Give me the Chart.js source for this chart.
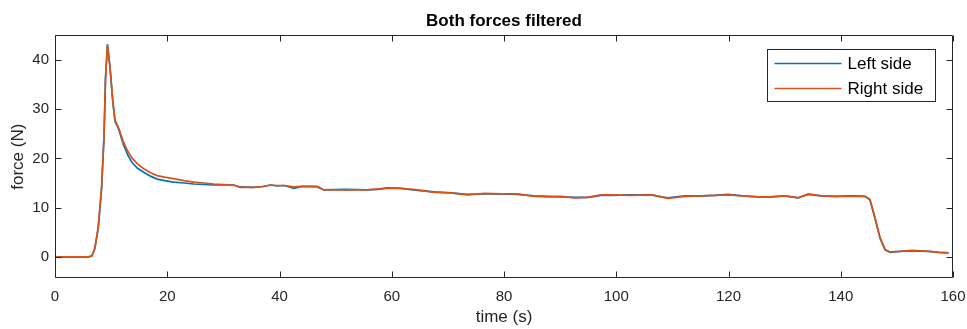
<!DOCTYPE html>
<html><head><meta charset="utf-8">
<script src="https://cdn.jsdelivr.net/npm/chart.js@4/dist/chart.umd.min.js"></script>
<style>html,body{margin:0;padding:0;background:#fff;overflow:hidden}#wrap{width:967px;height:329px}</style>
</head><body><div id="wrap"><canvas id="c" width="967" height="329"></canvas></div>
<script>
const titleText = 'Both forces filtered';
const xLabel = 'time (s)';
const yLabel = 'force (N)';
const seriesNames = ['Left side', 'Right side'];
const xTicks = [0, 20, 40, 60, 80, 100, 120, 140, 160];
const yTicks = [0, 10, 20, 30, 40];

const time = [0,3,6,6.6,7.1,7.7,8.3,8.75,9.0,9.35,
  9.8,10.3,10.7,11.3,12.2,13.0,13.7,14.7,15.8,17.0,
  18.2,19.5,21.1,23.0,24.7,26.5,28.3,30.0,31.8,33.0,
  35.4,37.0,38.4,39.5,40.8,42.6,44.0,46.7,47.9,51.5,
  55.7,57.5,59.2,61.6,64.6,67.6,70.5,73.5,76.5,79.5,
  82.4,85.4,88.0,90.2,92.6,94.9,97.3,99.1,102.5,106.3,
  108.0,109.2,112.2,115.2,117.5,119.9,122.5,125.3,127.5,130.1,
  132.4,134.2,136.5,139.0,142.0,144.3,145.2,146.1,147.0,147.9,
  148.8,150.5,152.7,155.7,157.5,159.2];

const leftSide = [0,0,0,0.2,1.7,5.8,13.9,24.8,36.2,43.2,
  38.5,31.5,27.5,26.1,22.8,20.6,19.2,18.0,17.2,16.4,
  15.8,15.5,15.2,15.0,14.8,14.7,14.6,14.6,14.6,14.2,
  14.1,14.3,14.6,14.4,14.5,13.9,14.3,14.3,13.6,13.7,
  13.6,13.7,14.0,13.9,13.5,13.2,13.0,12.7,12.8,12.8,
  12.7,12.4,12.3,12.2,12.1,12.1,12.5,12.5,12.6,12.6,
  12.2,12.0,12.4,12.4,12.5,12.7,12.4,12.2,12.2,12.4,
  12.0,12.7,12.4,12.3,12.4,12.3,11.6,7.8,3.8,1.4,
  0.9,1.1,1.2,1.1,0.9,0.8];

const rightSide = [0,0,0,0.2,1.8,6.0,14.1,25.0,36.5,43.1,
  38.6,31.8,27.7,26.3,23.3,21.4,20.1,18.9,17.9,17.1,
  16.5,16.2,15.9,15.5,15.2,15.0,14.8,14.7,14.6,14.1,
  14.1,14.3,14.6,14.5,14.5,14.2,14.3,14.2,13.6,13.6,
  13.6,13.8,13.9,13.9,13.6,13.1,13.0,12.6,12.9,12.8,
  12.8,12.3,12.2,12.3,12.0,12.1,12.6,12.6,12.5,12.6,
  12.2,11.9,12.3,12.4,12.5,12.6,12.4,12.2,12.2,12.4,
  12.0,12.8,12.4,12.3,12.3,12.3,11.7,8.0,3.9,1.5,
  1.0,1.1,1.3,1.1,0.9,0.8];

const FONT = "'Liberation Sans', Arial, Helvetica, sans-serif";
const AXIS = '#262626';
const colors = ['#0072BD', '#D95319'];

const boxPlugin = {
  id: 'boxTicks',
  afterDatasetsDraw(chart) {
    const {ctx, chartArea: a, scales} = chart;
    const L = Math.round(a.left) + 0.5, R = Math.round(a.right) - 0.5;
    const T = Math.round(a.top) + 0.5, B = Math.round(a.bottom) - 0.5;
    const tl = 6;
    ctx.save();
    ctx.strokeStyle = AXIS;
    ctx.lineWidth = 1;
    ctx.beginPath();
    ctx.rect(L, T, R - L, B - T);
    xTicks.forEach(v => {
      const px = Math.round(scales.x.getPixelForValue(v)) + 0.5;
      ctx.moveTo(px, B); ctx.lineTo(px, B - tl);
      ctx.moveTo(px, T); ctx.lineTo(px, T + tl);
    });
    yTicks.forEach(v => {
      const py = Math.round(scales.y.getPixelForValue(v)) + 0.5;
      ctx.moveTo(L, py); ctx.lineTo(L + tl, py);
      ctx.moveTo(R, py); ctx.lineTo(R - tl, py);
    });
    ctx.stroke();
    ctx.restore();
  }
};

const legendPlugin = {
  id: 'boxLegend',
  afterDraw(chart) {
    const {ctx, chartArea: a} = chart;
    const w = 168, h = 52;
    const x0 = Math.round(a.right - 18 - w) + 0.5;
    const y0 = Math.round(a.top + 14) + 0.5;
    ctx.save();
    ctx.fillStyle = '#fff';
    ctx.fillRect(x0, y0, w, h);
    ctx.strokeStyle = AXIS;
    ctx.lineWidth = 1;
    ctx.strokeRect(x0, y0, w, h);
    ctx.font = '17px ' + FONT;
    ctx.textBaseline = 'middle';
    ctx.textAlign = 'left';
    chart.data.datasets.forEach((ds, i) => {
      const yy = y0 + 14 + i * 25;
      ctx.strokeStyle = ds.borderColor;
      ctx.lineWidth = 1.5;
      ctx.beginPath();
      ctx.moveTo(x0 + 7, yy); ctx.lineTo(x0 + 74, yy);
      ctx.stroke();
      ctx.fillStyle = '#000';
      ctx.fillText(ds.label, x0 + 80, yy + 1);
    });
    ctx.restore();
  }
};

new Chart(document.getElementById('c'), {
  type: 'line',
  data: {
    datasets: [
      { label: seriesNames[0], data: time.map((t, i) => ({x: t, y: leftSide[i]})),
        borderColor: colors[0], borderWidth: 1.7, pointRadius: 0, tension: 0, fill: false, order: 2 },
      { label: seriesNames[1], data: time.map((t, i) => ({x: t, y: rightSide[i]})),
        borderColor: colors[1], borderWidth: 1.7, pointRadius: 0, tension: 0, fill: false, order: 1 }
    ]
  },
  options: {
    responsive: false,
    animation: false,
    devicePixelRatio: 1,
    layout: { padding: { left: 0, right: 14, top: 0, bottom: 0 } },
    plugins: {
      legend: { display: false },
      tooltip: { enabled: false },
      title: {
        display: true, text: titleText, fullSize: false, color: '#000',
        font: { family: FONT, size: 17, weight: 'bold' },
        padding: { top: 11, bottom: 4 }
      }
    },
    scales: {
      x: {
        type: 'linear', min: 0, max: 160,
        afterBuildTicks: s => { s.ticks = xTicks.map(v => ({value: v})); },
        afterFit: s => { s.height = 51; s.paddingLeft = 0; s.paddingRight = 0; },
        grid: { display: false, drawTicks: false },
        border: { display: false },
        ticks: { color: AXIS, font: { family: FONT, size: 15 }, padding: 10, maxRotation: 0, autoSkip: false },
        title: { display: true, text: xLabel, color: AXIS, font: { family: FONT, size: 17 }, padding: { top: 0, bottom: 1 } }
      },
      y: {
        type: 'linear', min: -4.3, max: 45,
        afterBuildTicks: s => { s.ticks = yTicks.map(v => ({value: v})); },
        afterFit: s => { s.width = 55; s.paddingTop = 0; s.paddingBottom = 0; },
        grid: { display: false, drawTicks: false },
        border: { display: false },
        ticks: { color: AXIS, font: { family: FONT, size: 15 }, padding: 6, autoSkip: false },
        title: { display: true, text: yLabel, color: AXIS, font: { family: FONT, size: 17 }, padding: { top: 8, bottom: 0 } }
      }
    }
  },
  plugins: [boxPlugin, legendPlugin]
});
</script>
</body></html>
